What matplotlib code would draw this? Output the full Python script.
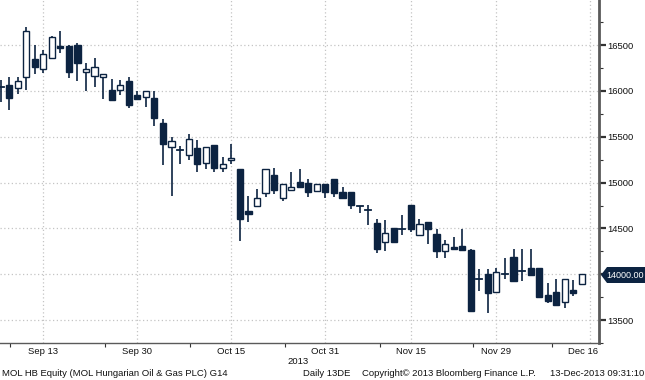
import matplotlib
matplotlib.use('Agg')
import matplotlib.pyplot as plt
import matplotlib.transforms as mtransforms
from matplotlib.patches import Rectangle, Polygon

# daily candles, MOL HB Equity, 6-Sep-2013 .. 13-Dec-2013 (trading days)
opens = [16040, 16068, 16038, 16151, 16351, 16242, 16358, 16496, 16496, 16503,
         16206, 16169, 16155, 16006, 16006, 16104, 15959, 15934, 15923, 15651,
         15389, 15352, 15305, 15378, 15215, 15407, 15161, 15243, 15150, 14695,
         14742, 14888, 15088, 14834, 14924, 15008, 14997, 14913, 14986, 15044,
         14899, 14899, 14742, 14699, 14562, 14355, 14507, 14489, 14753, 14427,
         14569, 14442, 14252, 14296, 14307, 14260, 13952, 14006, 13810, 14006,
         14192, 14035, 14064, 14064, 13770, 13806, 13697, 13824, 13890]
highs = [16122, 16151, 16151, 16703, 16503, 16449, 16595, 16656, 16503, 16522,
         16304, 16358, 16187, 16129, 16122, 16151, 16002, 15995, 15995, 15694,
         15498, 15403, 15534, 15467, 15389, 15410, 15280, 15425, 15150, 14852,
         14932, 15150, 15161, 14986, 15113, 15150, 15041, 14986, 14986, 15044,
         14954, 14899, 14750, 14761, 14598, 14587, 14507, 14642, 14753, 14598,
         14569, 14489, 14372, 14405, 14489, 14278, 14053, 14053, 14072, 14181,
         14278, 14271, 14271, 14064, 13908, 13952, 13944, 13937, 14000]
lows = [15882, 15795, 15970, 16006, 16184, 16195, 16350, 16413, 16141, 16104,
        15995, 16049, 15915, 15897, 15959, 15814, 15904, 15825, 15614, 15196,
        14859, 15207, 15251, 15117, 15150, 15117, 15113, 15207, 14361, 14568,
        14742, 14845, 14877, 14797, 14924, 14954, 14845, 14913, 14834, 14840,
        14834, 14714, 14670, 14543, 14235, 14252, 14355, 14434, 14460, 14427,
        14325, 14173, 14173, 14278, 14263, 13599, 13817, 13574, 13810, 13944,
        13926, 13926, 13991, 13756, 13690, 13661, 13636, 13763, 13890]
closes = [16045, 15923, 16104, 16659, 16267, 16402, 16587, 16467, 16202, 16304,
          16239, 16267, 16185, 15904, 16068, 15850, 15912, 15995, 15705, 15422,
          15450, 15355, 15477, 15207, 15389, 15161, 15204, 15269, 14605, 14660,
          14834, 15150, 14917, 14986, 14949, 14954, 14899, 14986, 14899, 14888,
          14834, 14753, 14742, 14699, 14278, 14453, 14355, 14478, 14496, 14554,
          14496, 14252, 14325, 14280, 14263, 13600, 13952, 13799, 14028, 14006,
          13926, 14035, 13991, 13756, 13708, 13661, 13944, 13799, 14000]

tick_pos = [5, 16, 27, 38, 48, 58, 69]
tick_labels = ['Sep 13', 'Sep 30', 'Oct 15', 'Oct 31', 'Nov 15', 'Nov 29', 'Dec 16']
minor_x = [1.1, 12.2, 22.2, 33.3, 44.4, 55.3, 64.5]
y_ticks = [13500, 14000, 14500, 15000, 15500, 16000, 16500]
last_price = 14000.00

navy = '#0c2341'
axis_grey = '#5a5a5a'
grid_grey = '#c4c4c4'
font = 'Liberation Sans'

fig = plt.figure(figsize=(6.45, 3.80), dpi=100)
ax = fig.add_axes([0, 37 / 380, 599 / 645, 343 / 380])

# grid
for y in y_ticks:
    ax.axhline(y, color=grid_grey, lw=0.9, ls=(0, (1, 2)), zorder=0)
for x in tick_pos:
    ax.axvline(x, color=grid_grey, lw=0.9, ls=(0, (1, 2)), zorder=0)

# candles
w = 0.72
for i in range(len(opens)):
    o, h, l, c = opens[i], highs[i], lows[i], closes[i]
    ax.plot([i, i], [l, h], color=navy, lw=1.2, solid_capstyle='butt', zorder=2)
    lo, hi = min(o, c), max(o, c)
    if hi - lo < 12:
        ax.plot([i - w / 2, i + w / 2], [o, o], color=navy, lw=1.3, zorder=3)
        continue
    face = navy if c < o else 'white'
    ax.add_patch(Rectangle((i - w / 2, lo), w, hi - lo, facecolor=face,
                           edgecolor=navy, lw=1.0, zorder=3))

ax.set_xlim(-0.06, 70.0)
ax.set_ylim(13257, 16993)

# axes styling
for s in ['top', 'left']:
    ax.spines[s].set_visible(False)
ax.spines['right'].set_color(axis_grey)
ax.spines['right'].set_linewidth(2.0)
ax.spines['bottom'].set_color(axis_grey)
ax.spines['bottom'].set_linewidth(1.0)

# the 14000 label sits under the last-price tag
ax.yaxis.tick_right()
ax.set_yticks(y_ticks)
ax.set_yticklabels(['' if v == last_price else str(v) for v in y_ticks],
                   fontsize=6.8, family=font, color='#111111')
ax.set_yticks([v + 250 for v in y_ticks] + [13250], minor=True)
ax.tick_params(axis='y', which='major', direction='out', length=5, width=1.6,
               color='#333333', pad=1)
ax.tick_params(axis='y', which='minor', direction='out', length=3, width=0.8,
               color='#333333')

ax.set_xticks(tick_pos)
ax.set_xticklabels(tick_labels, fontsize=6.8, family=font, color='#111111')
ax.set_xticks(minor_x, minor=True)
ax.tick_params(axis='x', which='major', length=0, pad=3)
ax.tick_params(axis='x', which='minor', direction='out', length=3, width=0.8,
               color='#333333')

# last x label is pulled in so it stays inside the plot
lab = ax.get_xticklabels()[-1]
lab.set_transform(lab.get_transform() +
                  mtransforms.ScaledTranslation(-7 / 100, 0, fig.dpi_scale_trans))

# last price tag
ty = 1 - 275 / 380
tag = Polygon([[601 / 645, ty], [607 / 645, ty + 8 / 380], [645 / 645, ty + 8 / 380],
               [645 / 645, ty - 8 / 380], [607 / 645, ty - 8 / 380]],
              closed=True, transform=fig.transFigure, facecolor=navy,
              edgecolor='none', zorder=5)
fig.patches.append(tag)
fig.text(625 / 645, ty, '%.2f' % last_price, color='white', fontsize=6.5,
         family=font, ha='center', va='center', zorder=6)

# footer
fig.text(298 / 645, 1 - 361 / 380, '2013', fontsize=6.8, family=font,
         ha='center', va='center', color='#111111')
fig.text(2 / 645, 1 - 373 / 380, 'MOL HB Equity (MOL Hungarian Oil & Gas PLC) G14',
         fontsize=6.8, family=font, ha='left', va='center', color='#111111')
fig.text(303 / 645, 1 - 373 / 380, 'Daily 13DE', fontsize=6.8, family=font,
         ha='left', va='center', color='#111111')
fig.text(362 / 645, 1 - 373 / 380, 'Copyright\u00a9 2013 Bloomberg Finance L.P.',
         fontsize=6.8, family=font, ha='left', va='center', color='#111111')
fig.text(644 / 645, 1 - 373 / 380, '13-Dec-2013 09:31:10', fontsize=6.8,
         family=font, ha='right', va='center', color='#111111')

fig.savefig('out.png', dpi=100)
